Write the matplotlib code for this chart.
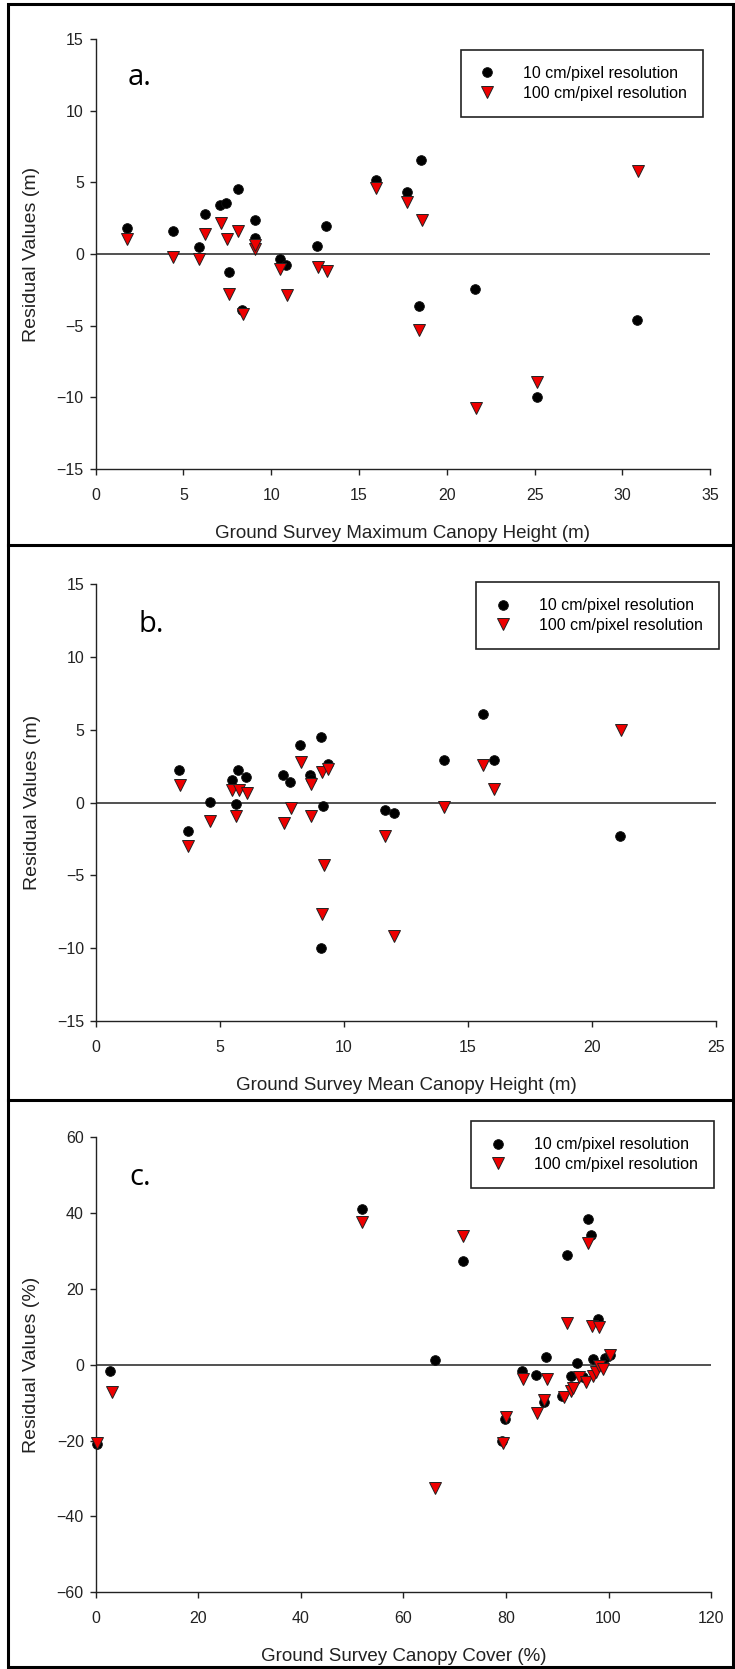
import matplotlib
matplotlib.use("Agg")
import matplotlib.pyplot as plt
from matplotlib.patches import Rectangle
from matplotlib.lines import Line2D

plt.rcParams['font.family'] = ['Liberation Sans', 'DejaVu Sans']

# panel a - max canopy height
black_a_x = [1.76, 4.38, 5.9, 6.25, 7.1, 7.42, 7.58, 8.09, 8.36, 9.05, 9.1, 10.52, 10.84,
             12.63, 13.13, 15.96, 17.73, 18.39, 18.55, 21.6, 25.12, 30.81]
black_a_y = [1.81, 1.6, 0.5, 2.8, 3.4, 3.53, -1.23, 4.5, -3.9, 1.12, 2.37, -0.37, -0.77,
             0.58, 1.98, 5.16, 4.33, -3.63, 6.54, -2.44, -9.98, -4.63]
red_a_x = [1.76, 4.38, 5.9, 6.25, 7.15, 7.47, 7.58, 8.09, 8.38, 9.05, 9.1, 10.5, 10.9,
           12.65, 13.16, 15.99, 17.75, 18.42, 18.58, 21.65, 25.15, 30.86]
red_a_y = [1.02, -0.23, -0.35, 1.37, 2.18, 1.02, -2.77, 1.6, -4.2, 0.35, 0.6, -1.07, -2.86,
           -0.89, -1.16, 4.58, 3.65, -5.3, 2.4, -10.77, -8.95, 5.79]

# panel b - mean canopy height
black_b_x = [3.33, 3.69, 4.6, 5.47, 5.64, 5.73, 6.05, 7.55, 7.81, 8.22, 8.64, 8.66, 9.08,
             9.08, 9.17, 9.36, 11.67, 12.0, 14.05, 15.62, 16.04, 21.14]
black_b_y = [2.26, -1.97, 0.02, 1.55, -0.12, 2.23, 1.73, 1.89, 1.44, 3.95, 1.89, 1.6, 4.5,
             -10.0, -0.23, 2.64, -0.53, -0.73, 2.92, 6.09, 2.94, -2.29]
red_b_x = [3.37, 3.69, 4.61, 5.48, 5.65, 5.77, 6.09, 7.6, 7.85, 8.25, 8.66, 8.68, 9.1,
           9.11, 9.21, 9.36, 11.67, 12.0, 14.05, 15.62, 16.06, 21.18]
red_b_y = [1.2, -2.97, -1.28, 0.86, -0.92, 0.86, 0.64, -1.37, -0.34, 2.78, 1.3, -0.92, 2.12,
           -7.65, -4.25, 2.28, -2.29, -9.18, -0.3, 2.62, 0.96, 5.02]

# panel c - canopy cover
black_c_x = [0.3, 2.8, 51.9, 66.1, 71.6, 79.3, 79.9, 83.2, 85.8, 87.4, 87.9, 91.0, 91.9,
             92.6, 93.9, 95.1, 96.0, 96.5, 97.0, 97.9, 99.3, 100.2]
black_c_y = [-20.9, -1.7, 41.0, 1.3, 27.3, -20.0, -14.3, -1.6, -2.7, -9.8, 2.1, -8.2, 29.0,
             -2.9, 0.5, -3.3, 38.4, 34.2, 1.5, 12.0, 1.9, 2.5]
red_c_x = [0.3, 3.1, 51.9, 66.1, 71.7, 79.4, 80.1, 83.3, 86.0, 87.4, 88.1, 91.3, 92.0,
           92.7, 93.1, 94.2, 95.6, 96.0, 96.7, 97.0, 97.6, 98.1, 98.1, 99.0, 100.2]
red_c_y = [-20.5, -7.1, 37.6, -32.5, 34.0, -20.7, -13.7, -3.8, -12.7, -9.2, -3.8, -8.6, 10.9,
           -6.9, -6.0, -3.3, -4.6, 32.0, 10.3, -2.9, -2.0, 10.1, -0.3, -1.1, 2.5]

W, H = 735, 1669
fig = plt.figure(figsize=(W / 100, H / 100), dpi=100)


def fx(px):
    return px / W


def fy(py):
    return 1 - py / H


panels = [
    dict(box=(95.6, 710.2, 39, 469), xlim=(0, 35), xticks=range(0, 36, 5),
         ylim=(-15, 15), yticks=range(-15, 16, 5),
         bx=black_a_x, by=black_a_y, rx=red_a_x, ry=red_a_y,
         xlabel='Ground Survey Maximum Canopy Height (m)', ylabel='Residual Values (m)',
         letter='a.', lpos=(1.85, 11.8), leg=(703, 50)),
    dict(box=(96.1, 715.8, 584.3, 1021), xlim=(0, 25), xticks=range(0, 26, 5),
         ylim=(-15, 15), yticks=range(-15, 16, 5),
         bx=black_b_x, by=black_b_y, rx=red_b_x, ry=red_b_y,
         xlabel='Ground Survey Mean Canopy Height (m)', ylabel='Residual Values (m)',
         letter='b.', lpos=(1.7, 11.75), leg=(718.6, 582.3)),
    dict(box=(95.6, 711.1, 1137.3, 1592.3), xlim=(0, 120), xticks=range(0, 121, 20),
         ylim=(-60, 60), yticks=range(-60, 61, 20),
         bx=black_c_x, by=black_c_y, rx=red_c_x, ry=red_c_y,
         xlabel='Ground Survey Canopy Cover (%)', ylabel='Residual Values (%)',
         letter='c.', lpos=(6.5, 47.5), leg=(713.5, 1121.3)),
]

for p in panels:
    l, r, t, b = p['box']
    ax = fig.add_axes([fx(l), fy(b), fx(r) - fx(l), fy(t) - fy(b)])
    ax.set_xlim(*p['xlim'])
    ax.set_ylim(*p['ylim'])
    ax.set_xticks(list(p['xticks']))
    ax.set_yticks(list(p['yticks']))
    for s in ['top', 'right']:
        ax.spines[s].set_visible(False)
    for s in ['left', 'bottom']:
        ax.spines[s].set_linewidth(1.0)
        ax.spines[s].set_color('#222222')
        ax.spines[s].set_clip_on(False)
    ax.tick_params(axis='both', direction='out', length=4.5, width=1.0, color='#222222',
                   labelsize=11.5, labelcolor='#222222')
    ax.tick_params(axis='x', pad=9)
    ax.tick_params(axis='y', pad=4)
    ax.axhline(0, color='#333333', lw=1.2, zorder=1)

    ax.plot(p['bx'], p['by'], ls='none', marker='o', ms=7, mfc='black', mec='#111111',
            mew=0.6, zorder=3, clip_on=False)
    ax.plot(p['rx'], p['ry'], ls='none', marker='v', ms=8, mfc='#ee0000', mec='#222222',
            mew=0.7, zorder=4, clip_on=False)

    ax.set_xlabel(p['xlabel'], fontsize=13.5, color='#222222', labelpad=16)
    ax.set_ylabel(p['ylabel'], fontsize=14, color='#222222', labelpad=12)
    ax.text(p['lpos'][0], p['lpos'][1], p['letter'], fontsize=21,
            family=['Open Sans', 'DejaVu Sans'], va='baseline', ha='left', color='black')

    handles = [
        Line2D([], [], ls='none', marker='o', ms=7, mfc='black', mec='#111111', mew=0.6),
        Line2D([], [], ls='none', marker='v', ms=8, mfc='#ee0000', mec='#222222', mew=0.7),
    ]
    leg = ax.legend(handles, ['10 cm/pixel resolution', '100 cm/pixel resolution'],
                    loc='upper right', bbox_to_anchor=(fx(p['leg'][0]), fy(p['leg'][1])),
                    bbox_transform=fig.transFigure, fontsize=11.5, frameon=True,
                    fancybox=False, edgecolor='#222222', framealpha=1,
                    handlelength=1.3, handletextpad=1.6, labelspacing=0.3,
                    borderpad=1.0, borderaxespad=0)
    leg.get_frame().set_linewidth(1.2)

# outer frames around the three panels
fig.add_artist(Rectangle((fx(8), fy(1667)), fx(733) - fx(8), fy(4) - fy(1667),
                         transform=fig.transFigure, fill=False, ec='black', lw=2.2))
for yy in [545, 1100]:
    fig.add_artist(Line2D([fx(8), fx(733)], [fy(yy), fy(yy)], transform=fig.transFigure,
                          color='black', lw=2.2))

fig.savefig('out.png', dpi=100)
